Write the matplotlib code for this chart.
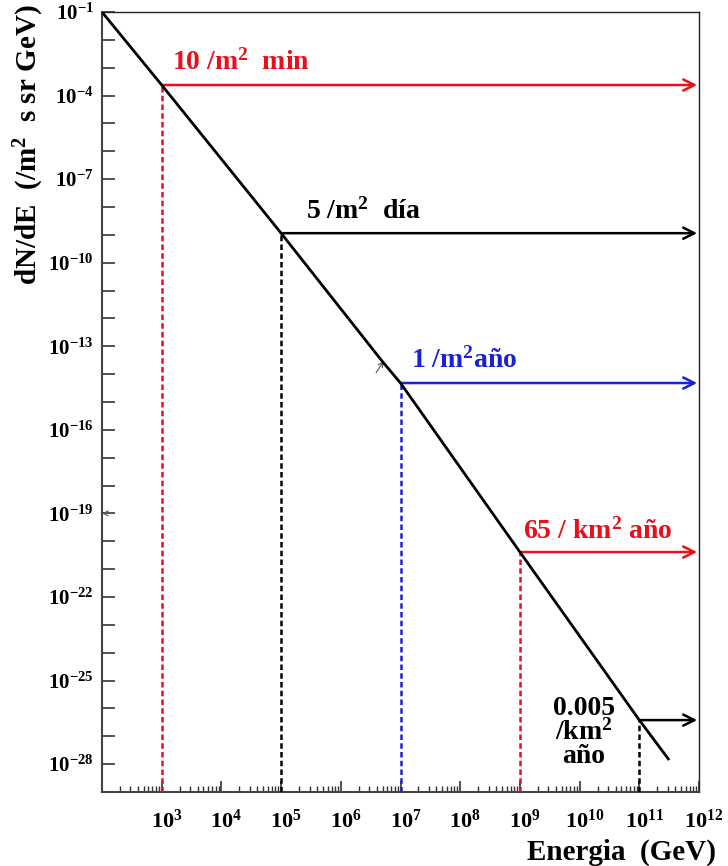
import matplotlib
matplotlib.use('Agg')
import matplotlib.pyplot as plt
import matplotlib.transforms as mtransforms
from matplotlib.ticker import FixedLocator, FixedFormatter, LogLocator, NullFormatter

# --- datos -----------------------------------------------------
espectro_E = [1e2, 1e3, 1e5, 5e6, 1e7, 1e9, 1e11, 3.16e11]
espectro_flujo = [1e-1, 2.4e-4, 1.15e-9, 2.8e-14, 4.8e-15, 4.1e-21, 3.8e-27, 1.4e-28]

marcas_E = [1e3, 1e5, 1e7, 1e9, 1e11]
marcas_flujo = [2.4e-4, 1.15e-9, 4.8e-15, 4.1e-21, 3.8e-27]
marcas_color = ['#e8101a', 'black', '#1a22d8', '#e8101a', 'black']
marcas_texto = ['10 /m$^{2}$  min', '5 /m$^{2}$  día', '1 /m$^{2}$año',
                '65 / km$^{2}$ año', '0.005\n/km$^{2}$\naño']

x_ticks = [1e3, 1e4, 1e5, 1e6, 1e7, 1e8, 1e9, 1e10, 1e11, 1e12]
x_ticklabels = [r'$\mathbf{10^{%d}}$' % e for e in range(3, 13)]
y_ticks = [10.0 ** e for e in range(-28, 0, 3)]
y_ticklabels = [r'$\mathbf{10^{%d}}$' % e for e in range(-28, 0, 3)]
# ---------------------------------------------------------------

plt.rcParams['font.family'] = ['Liberation Serif', 'DejaVu Serif']
plt.rcParams['font.weight'] = 'bold'
plt.rcParams['mathtext.fontset'] = 'custom'
plt.rcParams['mathtext.rm'] = 'Liberation Serif:bold'
plt.rcParams['mathtext.bf'] = 'Liberation Serif:bold'
plt.rcParams['mathtext.it'] = 'Liberation Serif:bold'

XMIN, XMAX = 1e2, 1e12
YMIN, YMAX = 1e-29, 1e-1
FIN_FLECHA = 9.3e11

fig = plt.figure(figsize=(7.28, 8.66), dpi=100)
ax = fig.add_axes([0.1401, 0.0855, 0.8201, 0.9006])
ax.set_xscale('log')
ax.set_yscale('log')
ax.set_xlim(XMIN, XMAX)
ax.set_ylim(YMIN, YMAX)

# espectro
ax.plot(espectro_E, espectro_flujo, color='black', lw=2.0, solid_capstyle='butt', zorder=5)

# lineas verticales y flechas
for E, f, c in zip(marcas_E, marcas_flujo, marcas_color):
    ax.plot([E, E], [YMIN, f], color=c, lw=1.8, ls=(0, (2.2, 1.3)), zorder=3)
    ax.annotate('', xy=(FIN_FLECHA, f), xytext=(E, f),
                arrowprops=dict(arrowstyle='->', color=c, lw=1.8,
                                mutation_scale=20, shrinkA=0, shrinkB=0))

# textos
ax.text(10 ** 3.17, 10 ** -3.08, marcas_texto[0], color=marcas_color[0],
        fontsize=20, fontweight='bold', va='baseline', ha='left')
ax.text(10 ** 5.41, 10 ** -8.40, marcas_texto[1], color=marcas_color[1],
        fontsize=20, fontweight='bold', va='baseline', ha='left')
ax.text(10 ** 7.17, 10 ** -13.78, marcas_texto[2], color=marcas_color[2],
        fontsize=20, fontweight='bold', va='baseline', ha='left')
ax.text(10 ** 9.05, 10 ** -19.89, marcas_texto[3], color=marcas_color[3],
        fontsize=20, fontweight='bold', va='baseline', ha='left')
ax.text(10 ** 10.07, 10 ** -25.55, marcas_texto[4], color=marcas_color[4],
        fontsize=20, fontweight='bold', va='top', ha='center',
        linespacing=0.92, multialignment='center')

# pequeñas marcas sueltas (flechitas)
ax.annotate('', xy=(5.2e6, 10 ** -13.53), xytext=(3.9e6, 10 ** -13.95),
            arrowprops=dict(arrowstyle='->', color='#555555', lw=0.8,
                            mutation_scale=9, shrinkA=0, shrinkB=0))
ax.annotate('', xy=(1.0e2, 1e-19), xytext=(1.3e2, 1e-19),
            arrowprops=dict(arrowstyle='->', color='#555555', lw=0.8,
                            mutation_scale=9, shrinkA=0, shrinkB=0))

# ejes
ax.xaxis.set_major_locator(FixedLocator(x_ticks))
ax.xaxis.set_major_formatter(FixedFormatter(x_ticklabels))
ax.xaxis.set_minor_locator(LogLocator(base=10, subs=range(2, 10), numticks=30))
ax.xaxis.set_minor_formatter(NullFormatter())

ax.yaxis.set_major_locator(FixedLocator(y_ticks))
ax.yaxis.set_major_formatter(FixedFormatter(y_ticklabels))
ax.yaxis.set_minor_locator(FixedLocator([10.0 ** e for e in range(-29, 0)]))
ax.yaxis.set_minor_formatter(NullFormatter())

ax.tick_params(axis='x', which='major', direction='in', length=8, width=1.2,
               colors='#333333', labelcolor='black', labelsize=16, pad=13)
ax.tick_params(axis='x', which='minor', direction='in', length=4.5, width=1.0, colors='#333333')
ax.tick_params(axis='y', which='major', direction='in', length=9, width=1.2,
               colors='#333333', labelcolor='black', labelsize=15, pad=6)
ax.tick_params(axis='y', which='minor', direction='in', length=9, width=1.2, colors='#333333')

# etiquetas del eje x un poco a la derecha, como en el original
desplaza = mtransforms.ScaledTranslation(5 / 100, 0, fig.dpi_scale_trans)
for lbl in ax.get_xticklabels():
    lbl.set_transform(lbl.get_transform() + desplaza)

for lado in ['left', 'bottom']:
    ax.spines[lado].set_linewidth(1.5)
    ax.spines[lado].set_color('#444444')
for lado in ['top', 'right']:
    ax.spines[lado].set_linewidth(1.0)
    ax.spines[lado].set_color('#222222')

fig.text(0.040, 1 - 4 / 866, 'dN/dE  (/m$^{2}$  s sr GeV)', rotation=90,
         fontsize=21, fontweight='bold', ha='center', va='top')
fig.text(716 / 728, 1 - 852 / 866, 'Energia  (GeV)', fontsize=21,
         fontweight='bold', ha='right', va='center')

fig.savefig('out.png', dpi=100)
